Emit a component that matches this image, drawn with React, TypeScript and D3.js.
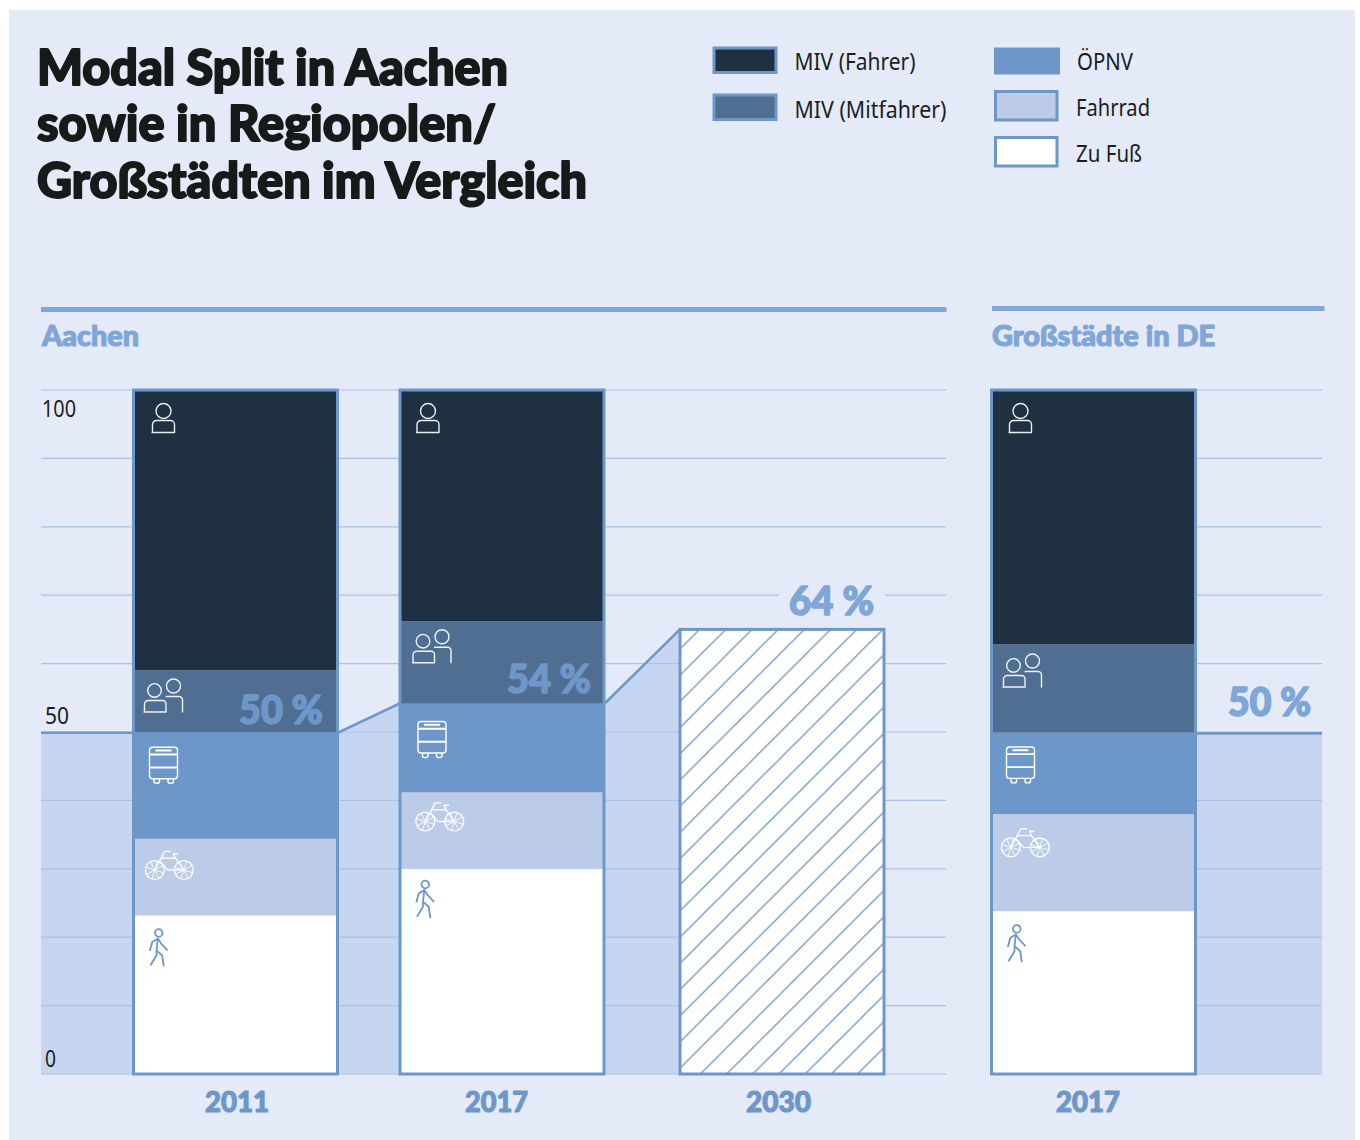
import React from "react";
import * as d3 from "d3";

// values, share of trips in %
const modes = ["walk", "bike", "transit", "passenger", "driver"];
const aachen2011 = [23.2, 11.2, 15.6, 9, 41];
const aachen2017 = [30, 11.2, 13, 12, 33.8];
const cities2017 = [23.8, 14.2, 11.9, 12.9, 37.2];
const target2030 = 65;
const areaValues = [49.9, 49.9, 49.9, 54.2, 54.2, 65];
const cityAreaValues = [49.8, 49.8];
const barLabels = ["2011", "2017", "2030", "2017 DE"];
const yTickLabels = [100, 50, 0];
const legendLeft = ["MIV (Fahrer)", "MIV (Mitfahrer)"];
const legendRight = ["ÖPNV", "Fahrrad", "Zu Fuß"];

const BG = "#e4eaf7";
const LINE = "#6e97c9";
const ACCENT = "#7fa6d8";
const AREA = "#c6d6f0";
const GRID = "#a9c1e6";
const colors: Record<string, string> = {
  walk: "#ffffff",
  bike: "#bbcbe8",
  transit: "#6e97c9",
  passenger: "#4f6e92",
  driver: "#1f3043",
};

const y = d3.scaleLinear().domain([0, 100]).range([1074, 390]);
const barX = d3.scaleOrdinal<string, number>().domain(barLabels).range([133.5, 400, 680, 991.5]);
const barW = 204;
const areaX = [41, 133, 338, 400, 605, 680];
const cityAreaX = [1196, 1322];

const stack = d3.stack<number[]>().keys(modes.map((_, i) => String(i))).value((d, k) => d[+k]);
const bars = [
  { key: "2011", series: stack([aachen2011]), dx: [25, 36, 30, 30, 30], dy: [33, 27, 31, 26, 28] },
  { key: "2017", series: stack([aachen2017]), dx: [25, 40, 32, 32, 28], dy: [31, 25, 34, 26, 28] },
  { key: "2017 DE", series: stack([cities2017]), dx: [25, 34, 29, 31, 29], dy: [33, 29, 30, 27, 28] },
];

const area = d3.area<number>()
  .x((_, i) => areaX[i])
  .y0(y(0))
  .y1((d) => y(d));
const topLine = d3.line<number>().x((_, i) => areaX[i]).y((d) => y(d));
const cityArea = d3.area<number>().x((_, i) => cityAreaX[i]).y0(y(0)).y1((d) => y(d));
const cityLine = d3.line<number>().x((_, i) => cityAreaX[i]).y((d) => y(d));

const HEAVY = "Lato, sans-serif";
const BODY = "'Noto Sans', sans-serif";

function Fit({ x, y, w, size, fill, heavy, anchor, children }: any) {
  return (
    <text x={x} y={y} fontSize={size} fill={fill} textAnchor={anchor}
      fontFamily={heavy ? HEAVY : BODY} fontWeight={heavy ? 900 : 400}
      stroke={heavy ? fill : "none"} strokeWidth={heavy ? size * 0.04 : 0} strokeLinejoin="round"
      textLength={w} lengthAdjust="spacingAndGlyphs">
      {children}
    </text>
  );
}

function Icon({ mode, x, y }: { mode: string; x: number; y: number }) {
  const common = { fill: "none", stroke: mode === "walk" ? LINE : "#ffffff", strokeWidth: 1.4, strokeLinejoin: "round" as const };
  if (mode === "driver") {
    return (
      <g transform={`translate(${x},${y})`} {...common} opacity={0.92}>
        <circle cx={0} cy={-7} r={7.5} />
        <path d="M-12 14.5H11V6.5a4 4 0 0 0-4-4H-7a4 4 0 0 0-4 4V14.5" />
      </g>
    );
  }
  if (mode === "passenger") {
    return (
      <g transform={`translate(${x},${y})`} {...common} opacity={0.92}>
        <circle cx={-9} cy={-6} r={6.8} />
        <circle cx={10} cy={-10.5} r={7} />
        <path d="M-20 15.5H2.5V7.5a3.5 3.5 0 0 0-3.5-3.5H-15a4 4 0 0 0-4 4V15.5" />
        <path d="M2 0H15.5a3.5 3.5 0 0 1 3.5 3.5V16" />
      </g>
    );
  }
  if (mode === "transit") {
    return (
      <g transform={`translate(${x},${y})`} {...common}>
        <rect x={-14} y={-15.7} width={28} height={31.4} rx={3} />
        <path d="M-14 -8.5H14M-14 4.5H14" strokeWidth={1.8} />
        <path d="M-8 -12.5H8" strokeWidth={2} />
        <path d="M-9.5 15.7v2.5a2 2 0 0 0 2 2h1.5a2 2 0 0 0 2-2v-2.5M4.5 15.7v2.5a2 2 0 0 0 2 2h1.5a2 2 0 0 0 2-2v-2.5" />
      </g>
    );
  }
  if (mode === "bike") {
    const spokes = d3.range(8).map((i) => (i * Math.PI) / 4);
    return (
      <g transform={`translate(${x},${y})`} {...common} strokeWidth={1.4} opacity={0.95}>
        {[-14.7, 14.3].map((cx) => (
          <g key={cx}>
            <circle cx={cx} cy={4.3} r={9.4} />
            {spokes.map((a) => (
              <line key={a} x1={cx} y1={4.3} x2={cx + 9.4 * Math.cos(a + 0.3)} y2={4.3 + 9.4 * Math.sin(a + 0.3)} strokeWidth={1} />
            ))}
          </g>
        ))}
        <path d="M-14.7 4.3L-4.7 -14.3H1.5M-8.5 -7.5L-0.5 -7.5H6L14.3 4.3H-2L-9.5 -4.5" />
        <path d="M6 -7.5L4 -12H9" />
      </g>
    );
  }
  return (
    <g transform={`translate(${x},${y})`} {...common} strokeWidth={1.8}>
      <circle cx={0.3} cy={-15.3} r={3.8} />
      <path d="M-8.7 2.7L-6.3 -6.3L-0.7 -9.7L2.7 -4.7L9 2" />
      <path d="M-0.7 -9.7L-2 2V7L-8 17" />
      <path d="M-2 2L3.7 7L5.3 18" />
    </g>
  );
}

export default function App() {
  const gridTicks = y.ticks(10);
  return (
    <svg width={1360} height={1140} style={{ position: "absolute", left: 0, top: 0 }}>
      <defs>
        <pattern id="hatch" patternUnits="userSpaceOnUse" width={26.2} height={26.2} patternTransform="translate(19,0)">
          <path d="M-2 28.2L28.2 -2" stroke={LINE} strokeWidth={1.3} />
          <path d="M-2 2L2 -2M24.2 28.2L28.2 24.2" stroke={LINE} strokeWidth={1.3} />
        </pattern>
      </defs>
      <rect x={9} y={10} width={1346} height={1130} fill={BG} />

      <g>
        <Fit x={37} y={85} w={471} size={50} fill="#161a18" heavy>Modal Split in Aachen</Fit>
        <Fit x={37} y={141} w={459} size={50} fill="#161a18" heavy>sowie in Regiopolen/</Fit>
        <Fit x={37} y={198} w={550} size={50} fill="#161a18" heavy>Großstädten im Vergleich</Fit>
      </g>

      {legendLeft.map((t, i) => (
        <g key={t}>
          <rect x={714} y={48 + i * 47} width={62} height={24.5} fill={colors[i === 0 ? "driver" : "passenger"]} stroke={LINE} strokeWidth={3} />
          <Fit x={794.5} y={70 + i * 48} w={[121, 152][i]} size={24} fill="#1b1d1f">{t}</Fit>
        </g>
      ))}
      {legendRight.map((t, i) => (
        <g key={t}>
          <rect x={995.5} y={[49, 91.5, 137.5][i]} width={i === 0 ? 63 : 61.5} height={[24, 28.5, 28.5][i]}
            fill={colors[["transit", "bike", "walk"][i]]} stroke={LINE} strokeWidth={3} />
          <Fit x={i === 0 ? 1077 : 1076} y={[70, 116, 162][i]} w={[56, 74, 66][i]} size={24} fill="#1b1d1f">{t}</Fit>
        </g>
      ))}

      <rect x={41} y={307} width={905.5} height={5} fill={ACCENT} />
      <rect x={992} y={306} width={332.5} height={5} fill={ACCENT} />
      <Fit x={42} y={346} w={97} size={29} fill={ACCENT} heavy>Aachen</Fit>
      <Fit x={992} y={346} w={223} size={29} fill={ACCENT} heavy>Großstädte in DE</Fit>

      <path d={area(areaValues) ?? ""} fill={AREA} />
      <path d={cityArea(cityAreaValues) ?? ""} fill={AREA} />

      {gridTicks.map((t) => (
        <g key={t} stroke={GRID} strokeWidth={1.2}>
          <line x1={41} x2={946} y1={y(t)} y2={y(t)} />
          <line x1={1196} x2={1322} y1={y(t)} y2={y(t)} />
        </g>
      ))}

      <path d={topLine(areaValues) ?? ""} fill="none" stroke={LINE} strokeWidth={2.6} />
      <path d={cityLine(cityAreaValues) ?? ""} fill="none" stroke={LINE} strokeWidth={2.6} />

      {yTickLabels.map((t) => (
        <Fit key={t} x={t === 100 ? 42 : 45} y={t === 100 ? 417 : t === 50 ? 724 : 1067} w={t === 100 ? 34 : t === 50 ? 24 : 11} size={24} fill="#1b1d1f">{t}</Fit>
      ))}

      {bars.map((b) => {
        const x0 = barX(b.key);
        return (
          <g key={b.key}>
            {b.series.map((s, i) => (
              <rect key={modes[i]} x={x0} width={barW} y={y(s[0][1])} height={y(s[0][0]) - y(s[0][1])} fill={colors[modes[i]]} />
            ))}
            <rect x={x0} y={y(100)} width={barW} height={y(0) - y(100)} fill="none" stroke={LINE} strokeWidth={3} />
            {b.series.map((s, i) => (
              <Icon key={modes[i]} mode={modes[i]} x={x0 + b.dx[i]} y={y(s[0][1]) + b.dy[i]} />
            ))}
          </g>
        );
      })}

      <rect x={barX("2030")} y={y(target2030)} width={barW} height={y(0) - y(target2030)} fill="#ffffff" />
      <rect x={barX("2030")} y={y(target2030)} width={barW} height={y(0) - y(target2030)} fill="url(#hatch)" stroke={LINE} strokeWidth={3} />

      <rect x={779} y={585} width={106} height={20} fill={BG} />
      <Fit x={789} y={615} w={85} size={39} fill={ACCENT} heavy>64 %</Fit>
      <Fit x={239} y={724} w={84} size={39} fill={LINE} heavy>50 %</Fit>
      <Fit x={507} y={693} w={84} size={39} fill={LINE} heavy>54 %</Fit>
      <Fit x={1228} y={716} w={83} size={39} fill={ACCENT} heavy>50 %</Fit>

      <Fit x={205} y={1112} w={64} size={28} fill={LINE} heavy>2011</Fit>
      <Fit x={465} y={1112} w={63} size={28} fill={LINE} heavy>2017</Fit>
      <Fit x={746} y={1112} w={65} size={28} fill={LINE} heavy>2030</Fit>
      <Fit x={1056} y={1112} w={64} size={28} fill={LINE} heavy>2017</Fit>
    </svg>
  );
}
